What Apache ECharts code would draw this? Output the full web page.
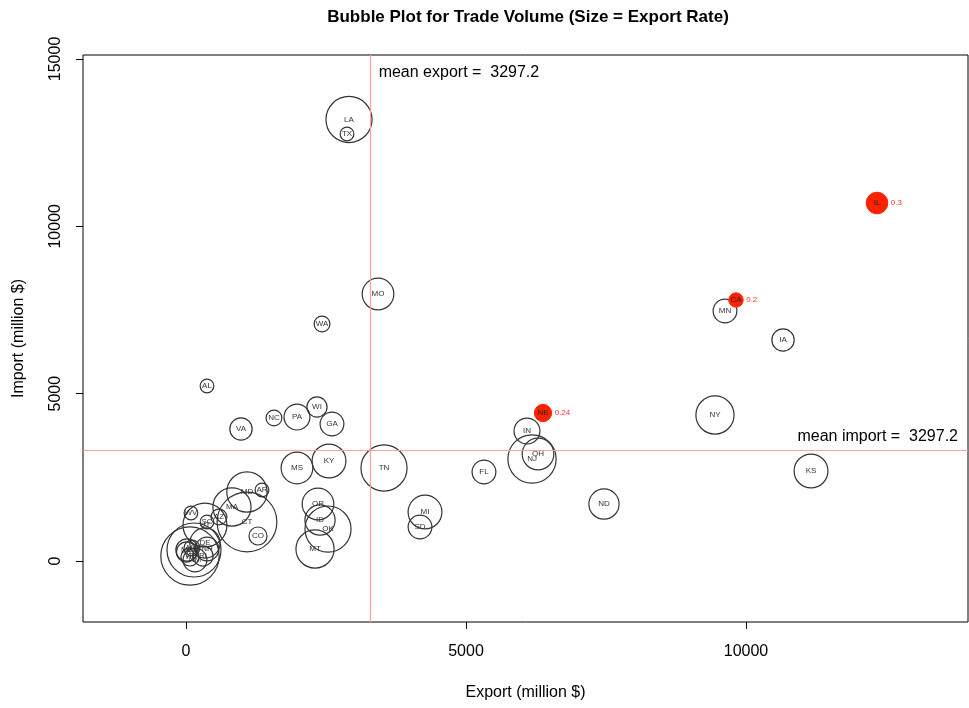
<!DOCTYPE html>
<html>
<head>
<meta charset="utf-8">
<title>Bubble Plot for Trade Volume</title>
<script src="https://cdn.jsdelivr.net/npm/echarts@6/dist/echarts.min.js"></script>
<style>
    html, body { margin: 0; padding: 0; background: #fff; }
    #chart { width: 969px; height: 708px; }
</style>
</head>
<body>
<div id="chart"></div>
<script>
    // values
    const states = ['AL','AK','AZ','AR','CA','CO','CT','DE','FL','GA','HI','ID','IL','IN','IA','KS','KY','LA','ME','MD',
                    'MA','MI','MN','MS','MO','MT','NE','NV','NH','NJ','NM','NY','NC','ND','OH','OK','OR','PA','RI','SC',
                    'SD','TN','TX','UT','VT','VA','WA','WV','WI','WY'];
    const exportVals = [375, 10, 589, 1357, 9821, 1286, 1089, 339, 5321, 2607, 71, 2393, 12339, 6089, 10661, 11161, 2554, 2911, 18, 1089,
                        821, 4268, 9625, 1982, 3429, 2304, 6375, 107, 375, 6179, 161, 9446, 1571, 7464, 6286, 2536, 2357, 1982, 304, 375,
                        4179, 3536, 2875, 339, 71, 982, 2429, 89, 2339, 143];
    const importVals = [5229, 269, 1315, 2121, 7798, 747, 1165, 538, 2659, 4093, 120, 1225, 10696, 3884, 6603, 2689, 2988, 13191, 329, 2062,
                        1613, 1464, 7469, 2779, 7977, 359, 4422, 388, 359, 3048, 30, 4362, 4272, 1703, 3197, 956, 1703, 4302, 149, 1165,
                        1016, 2779, 12758, 1076, 149, 3944, 7081, 1434, 4601, 329];
    const exportRate = [0.19, 0.28, 0.22, 0.19, 0.2, 0.25, 0.83, 0.42, 0.33, 0.33, 0.25, 0.42, 0.3, 0.36, 0.31, 0.47, 0.47, 0.64, 0.31, 0.56,
                        0.53, 0.47, 0.33, 0.44, 0.44, 0.53, 0.24, 0.22, 0.33, 0.67, 0.33, 0.53, 0.22, 0.42, 0.44, 0.64, 0.44, 0.36, 0.28, 0.19,
                        0.33, 0.64, 0.19, 0.61, 0.81, 0.31, 0.22, 0.19, 0.28, 0.75];
    const highlight = ['IL', 'NE', 'CA'];
    const meanExport = 3297.2;
    const meanImport = 3297.2;
    const xTicks = [0, 5000, 10000];
    const yTicks = [0, 5000, 10000, 15000];

    const font = '"Liberation Sans", Arial, Helvetica, sans-serif';
    const sizeScale = 72; // bubble diameter in px per unit of export rate
    const meanColor = '#ffa0a0';

    const plain = [];
    const hot = [];
    states.forEach((s, i) => {
        const row = [exportVals[i], importVals[i], exportRate[i], s];
        (highlight.includes(s) ? hot : plain).push(row);
    });

    const chart = echarts.init(document.getElementById('chart'));
    const option = {
        animation: false,
        textStyle: { fontFamily: font },
        graphic: [{
            type: 'text',
            style: {
                x: 528, y: 17,
                text: 'Bubble Plot for Trade Volume (Size = Export Rate)',
                font: 'bold 17px ' + font,
                fill: '#000',
                align: 'center',
                verticalAlign: 'middle'
            }
        }],
        grid: {
            left: 83, right: 1, top: 55, bottom: 86,
            outerBoundsMode: 'none',
            show: true, borderColor: '#000', borderWidth: 1
        },
        xAxis: {
            type: 'value',
            min: -1839, max: 13964,
            splitLine: { show: false },
            axisLine: { show: false, onZero: false },
            axisTick: { show: true, length: 7, customValues: xTicks, lineStyle: { color: '#000' } },
            axisLabel: { customValues: xTicks, margin: 22, fontSize: 16, color: '#000', formatter: v => String(v) },
            name: 'Export (million $)',
            nameLocation: 'middle',
            nameGap: 63,
            nameTextStyle: { fontSize: 16, color: '#000' }
        },
        yAxis: {
            type: 'value',
            min: -1822, max: 15118,
            splitLine: { show: false },
            axisLine: { show: false, onZero: false },
            axisTick: { show: true, length: 7, customValues: yTicks, lineStyle: { color: '#000' } },
            axisLabel: { customValues: yTicks, margin: 19, fontSize: 16, color: '#000', rotate: 90, formatter: v => String(v) },
            name: 'Import (million $)',
            nameLocation: 'middle',
            nameGap: 56,
            nameTextStyle: { fontSize: 16, color: '#000' }
        },
        series: [
            {
                type: 'scatter',
                data: plain,
                symbolSize: d => d[2] * sizeScale,
                itemStyle: { color: 'rgba(0,0,0,0)', borderColor: '#333', borderWidth: 1.2, opacity: 1 },
                label: { show: true, position: 'inside', formatter: p => p.data[3], fontSize: 8, color: '#333' },
                emphasis: { disabled: true },
                markLine: {
                    silent: true,
                    symbol: ['none', 'none'],
                    lineStyle: { color: meanColor, width: 1, type: 'solid', opacity: 1 },
                    data: [
                        { xAxis: meanExport, label: { show: false }, lineStyle: { color: meanColor, width: 1.2 } },
                        {
                            yAxis: meanImport,
                            lineStyle: { color: meanColor, width: 1.2 },
                            label: {
                                show: true, position: 'insideEndTop', distance: [10, 6],
                                formatter: 'mean import =  ' + meanImport,
                                fontSize: 16, color: '#000'
                            }
                        }
                    ]
                }
            },
            {
                type: 'scatter',
                data: hot,
                symbolSize: d => d[2] * sizeScale,
                itemStyle: { color: '#ff2200', borderColor: '#ff2200', borderWidth: 1, opacity: 1 },
                label: { show: true, position: 'inside', formatter: p => p.data[3], fontSize: 8, color: '#222' },
                emphasis: { disabled: true }
            },
            {
                type: 'scatter',
                data: hot,
                symbolSize: d => d[2] * sizeScale,
                itemStyle: { color: 'rgba(0,0,0,0)', opacity: 1 },
                label: { show: true, position: 'right', distance: 3, formatter: p => String(p.data[2]), fontSize: 8, color: '#ff3030' },
                emphasis: { disabled: true },
                silent: true
            },
            {
                type: 'scatter',
                data: [[meanExport, 14580]],
                symbolSize: 0,
                itemStyle: { opacity: 1 },
                label: {
                    show: true, position: 'right', distance: 8,
                    formatter: 'mean export =  ' + meanExport,
                    fontSize: 16, color: '#000'
                },
                emphasis: { disabled: true },
                silent: true
            }
        ]
    };
    chart.setOption(option);
</script>
</body>
</html>
